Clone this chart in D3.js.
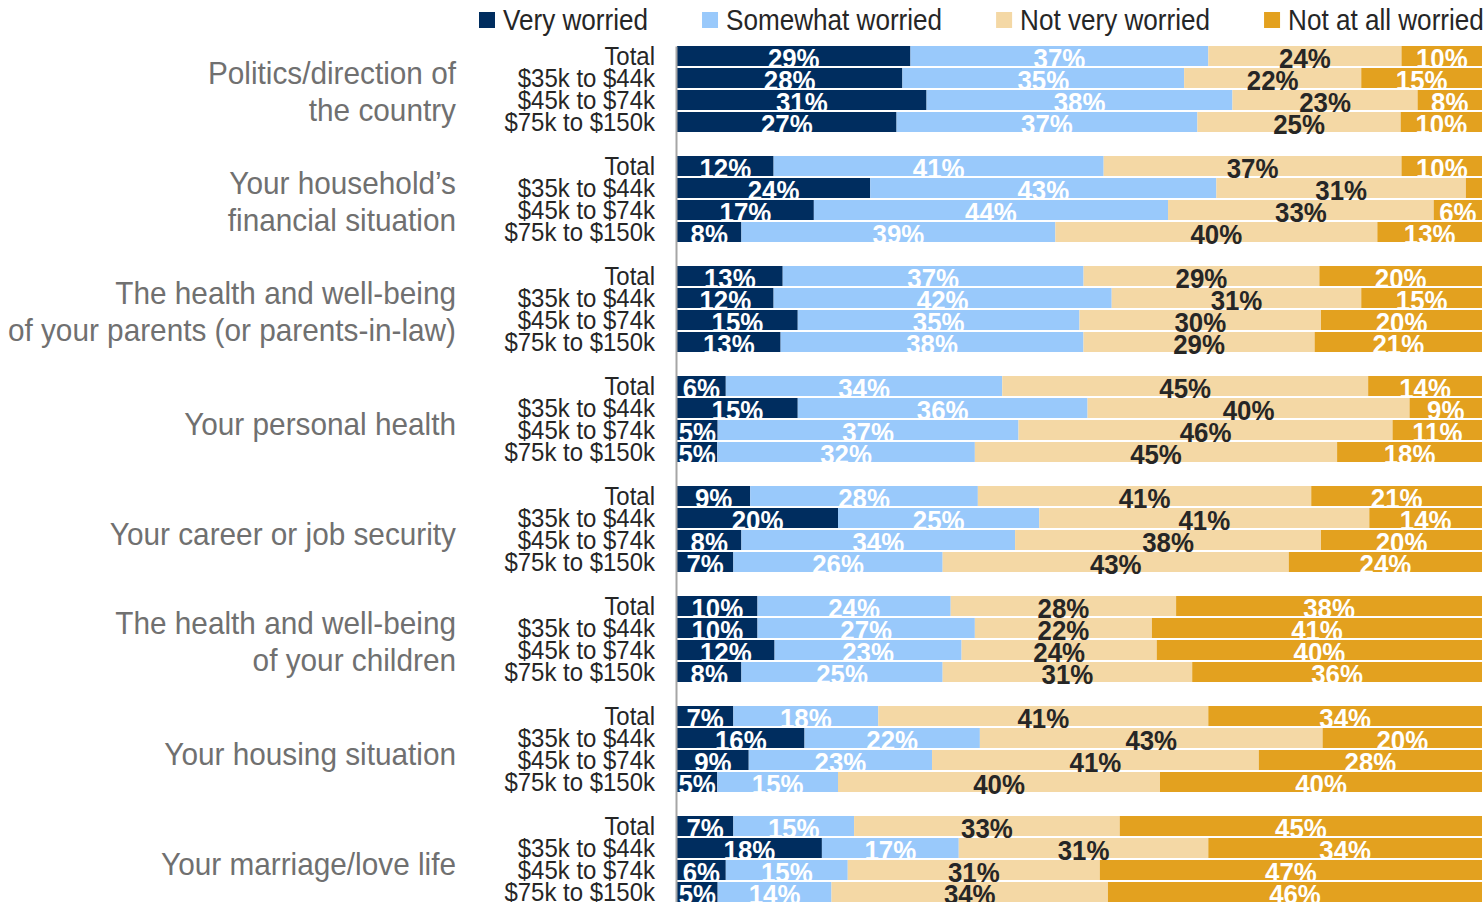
<!DOCTYPE html>
<html>
<head>
<meta charset="utf-8">
<script src="https://cdn.jsdelivr.net/npm/d3@7"></script>
<style>
  html, body { margin: 0; padding: 0; background: #ffffff; }
  svg { display: block; font-family: "Liberation Sans", Arial, sans-serif; }
</style>
</head>
<body>
<svg id="chart" width="1484" height="902"></svg>
<script>
// Worry topics (two-line labels split with "\n")
const categories = [
  "Politics/direction of\nthe country",
  "Your household\u2019s\nfinancial situation",
  "The health and well-being\nof your parents (or parents-in-law)",
  "Your personal health",
  "Your career or job security",
  "The health and well-being\nof your children",
  "Your housing situation",
  "Your marriage/love life"
];

// Income brackets shown under each topic
const incomes = ["Total", "$35k to $44k", "$45k to $74k", "$75k to $150k"];

// Response levels
const seriesNames = ["Very worried", "Somewhat worried", "Not very worried", "Not at all worried"];
const seriesColors = ["#002D5F", "#99C9FB", "#F4D8A5", "#E3A11F"];
const labelColors = ["#ffffff", "#ffffff", "#262626", "#ffffff"];

// Percent per topic, rows in income-bracket order
const veryWorried = [
  [29, 28, 31, 27],
  [12, 24, 17, 8],
  [13, 12, 15, 13],
  [6, 15, 5, 5],
  [9, 20, 8, 7],
  [10, 10, 12, 8],
  [7, 16, 9, 5],
  [7, 18, 6, 5]
];
const somewhatWorried = [
  [37, 35, 38, 37],
  [41, 43, 44, 39],
  [37, 42, 35, 38],
  [34, 36, 37, 32],
  [28, 25, 34, 26],
  [24, 27, 23, 25],
  [18, 22, 23, 15],
  [15, 17, 15, 14]
];
const notVeryWorried = [
  [24, 22, 23, 25],
  [37, 31, 33, 40],
  [29, 31, 30, 29],
  [45, 40, 46, 45],
  [41, 41, 38, 43],
  [28, 22, 24, 31],
  [41, 43, 41, 40],
  [33, 31, 31, 34]
];
const notAtAllWorried = [
  [10, 15, 8, 10],
  [10, 2, 6, 13],
  [20, 15, 20, 21],
  [14, 9, 11, 18],
  [21, 14, 20, 24],
  [38, 41, 40, 36],
  [34, 20, 28, 40],
  [45, 34, 47, 46]
];

const seriesValues = [veryWorried, somewhatWorried, notVeryWorried, notAtAllWorried];

// Flat table, one record per bar
const rows = [];
categories.forEach((cat, ci) => {
  incomes.forEach((inc, ri) => {
    const rec = { category: cat, income: inc, key: ci + "|" + ri };
    seriesNames.forEach((s, si) => { rec[s] = seriesValues[si][ci][ri]; });
    rows.push(rec);
  });
});

const stacked = d3.stack()
  .keys(seriesNames)
  .offset(d3.stackOffsetExpand)(rows);

const svg = d3.select("#chart");

const x = d3.scaleLinear().domain([0, 1]).range([677, 1482]);

const yGroup = d3.scaleBand()
  .domain(categories)
  .range([46, 46 + categories.length * 110])
  .paddingInner(0).paddingOuter(0);

const yRow = d3.scaleBand()
  .domain(incomes)
  .range([0, 86])
  .paddingInner(2 / 22).paddingOuter(0);

const rowTop = d => yGroup(d.data.category) + yRow(d.data.income);

// Bars and their value labels, drawn row by row
const rowsLayer = svg.append("g");
rows.forEach((r, idx) => {
  const g = rowsLayer.append("g");
  const segs = stacked.map((layer, si) => ({ si, seg: layer[idx], value: r[seriesNames[si]] }));
  g.selectAll("rect")
    .data(segs)
    .join("rect")
    .attr("x", d => x(d.seg[0]))
    .attr("y", d => rowTop(d.seg))
    .attr("width", d => x(d.seg[1]) - x(d.seg[0]))
    .attr("height", yRow.bandwidth())
    .attr("fill", d => seriesColors[d.si]);
  g.selectAll("text")
    .data(segs.filter(d => d.value >= 3))
    .join("text")
    .attr("transform", d => `translate(${(x(d.seg[0]) + x(d.seg[1])) / 2},${rowTop(d.seg) + 22}) scale(0.94,1)`)
    .attr("text-anchor", "middle")
    .attr("font-size", 27.5)
    .attr("font-weight", "bold")
    .attr("fill", d => labelColors[d.si])
    .text(d => d.value + "%");
});

// Vertical axis line
svg.append("g")
  .attr("transform", "translate(676,0)")
  .call(d3.axisLeft(yGroup).tickValues([]).tickSizeOuter(0))
  .call(g => g.select(".domain").attr("stroke", "#A6A6A6").attr("stroke-width", 2));

// Income bracket labels
const incomeLayer = svg.append("g");
categories.forEach(cat => {
  incomes.forEach(inc => {
    const cy = yGroup(cat) + yRow(inc) + yRow.bandwidth() / 2;
    incomeLayer.append("text")
      .attr("transform", `translate(655,${cy + 9}) scale(0.94,1)`)
      .attr("text-anchor", "end")
      .attr("font-size", 25.5)
      .attr("fill", "#262626")
      .text(inc);
  });
});

// Topic labels
const catLayer = svg.append("g");
categories.forEach(cat => {
  const lines = cat.split("\n");
  const center = yGroup(cat) + 43;
  lines.forEach((line, li) => {
    const cy = lines.length === 1 ? center + 5 : center + 2 + (li - 0.5) * 37;
    catLayer.append("text")
      .attr("transform", `translate(456,${cy + 11}) scale(0.93,1)`)
      .attr("text-anchor", "end")
      .attr("font-size", 32)
      .attr("fill", "#707070")
      .text(line);
  });
});

// Legend
const legend = svg.append("g");
let lx = 479;
seriesNames.forEach((name, si) => {
  const item = legend.append("g");
  item.append("rect")
    .attr("x", lx).attr("y", 12)
    .attr("width", 16).attr("height", 16)
    .attr("fill", seriesColors[si]);
  const t = item.append("text")
    .attr("transform", `translate(${lx + 24},30) scale(0.87,1)`)
    .attr("font-size", 30)
    .attr("fill", "#262626")
    .text(name);
  lx += 24 + t.node().getComputedTextLength() * 0.87 + 54;
});
</script>
</body>
</html>
